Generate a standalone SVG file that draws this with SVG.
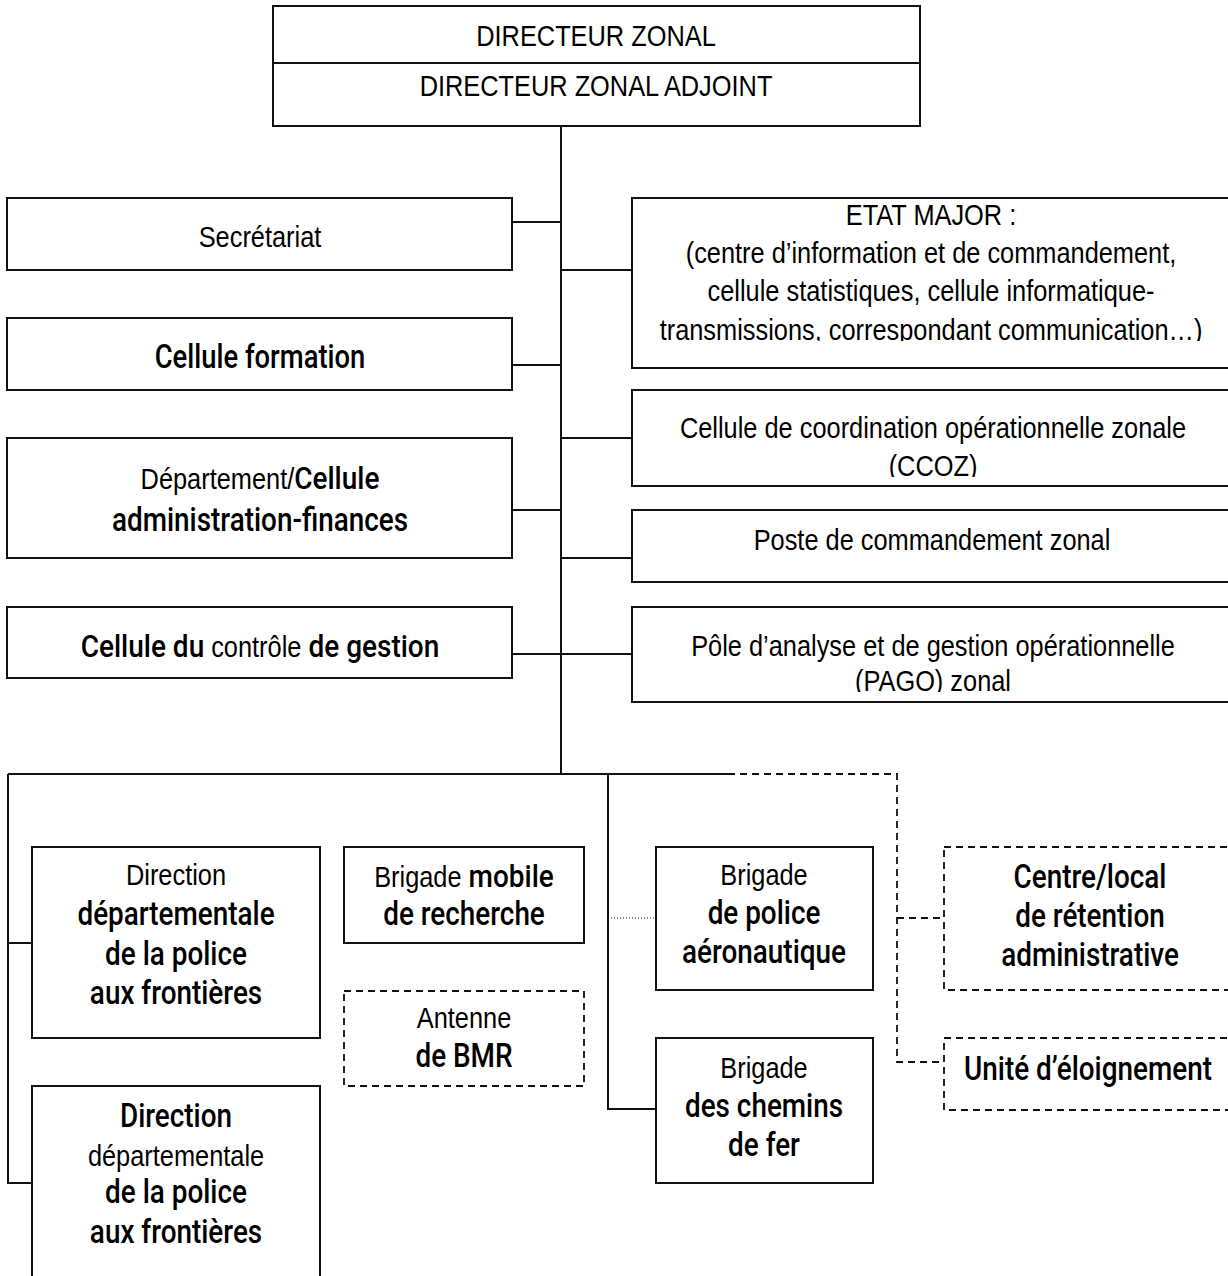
<svg xmlns="http://www.w3.org/2000/svg" width="1228" height="1276" viewBox="0 0 1228 1276">
  <style>
    .box { fill: #fff; stroke: #111; stroke-width: 2; }
    .dbox { fill: #fff; stroke: #111; stroke-width: 1.8; stroke-dasharray: 7 5; }
    .ln { fill: none; stroke: #111; stroke-width: 2; }
    .dln { fill: none; stroke: #111; stroke-width: 1.8; stroke-dasharray: 7 5; }
    .dot { fill: none; stroke: #111; stroke-width: 1; stroke-dasharray: 1 2; }
    .l { font-family: "Liberation Sans", Arial, sans-serif; font-size: 29px; fill: #000; text-anchor: middle; }
    .b { font-family: Roboto, "Liberation Sans", Arial, sans-serif; font-weight: 500; font-size: 33px; fill: #000; text-anchor: middle; }
    .bm { font-family: Roboto, "Liberation Sans", Arial, sans-serif; font-weight: 500; font-size: 32px; }
  </style>
  <defs>
    <clipPath id="clipEtat"><rect x="630" y="196" width="610" height="145"/></clipPath>
    <clipPath id="clipCcoz"><rect x="630" y="388" width="610" height="89"/></clipPath>
    <clipPath id="clipPago"><rect x="630" y="605" width="610" height="87"/></clipPath>
  </defs>

  <!-- connectors -->
  <g id="connectors">
    <path class="ln" d="M561 126 V774"/>
    <path class="ln" d="M512 222 H561 M512 365 H561 M512 510 H561 M512 654 H561"/>
    <path class="ln" d="M561 270 H632 M561 438 H632 M561 558 H632 M561 654 H632"/>
    <path class="ln" d="M8 774 H728"/>
    <path class="dln" d="M728 774 H897 V1062 H944 M897 918 H944"/>
    <path class="ln" d="M8 774 V1183 H32 M8 943 H32"/>
    <path class="ln" d="M608 774 V1109 H656"/>
    <path class="dot" d="M608 918 H656"/>
  </g>

  <!-- head of the zone -->
  <g id="directeur">
    <rect class="box" x="273" y="6" width="647" height="120"/>
    <path class="ln" d="M273 63 H920"/>
    <text class="l" transform="translate(596 46) scale(0.875 1)">DIRECTEUR ZONAL</text>
    <text class="l" transform="translate(596 96) scale(0.875 1)">DIRECTEUR ZONAL ADJOINT</text>
  </g>

  <!-- left column -->
  <g id="secretariat">
    <rect class="box" x="7" y="198" width="505" height="72"/>
    <text class="l" transform="translate(260 247) scale(0.875 1)">Secrétariat</text>
  </g>
  <g id="cellule-formation">
    <rect class="box" x="7" y="318" width="505" height="72"/>
    <text class="b" transform="translate(260 368) scale(0.83 1)">Cellule formation</text>
  </g>
  <g id="administration-finances">
    <rect class="box" x="7" y="438" width="505" height="120"/>
    <text class="l" transform="translate(260 489) scale(0.875 1)">Département/<tspan class="bm">Cellule</tspan></text>
    <text class="b" transform="translate(260 531) scale(0.845 1)">administration-finances</text>
  </g>
  <g id="controle-gestion">
    <rect class="box" x="7" y="607" width="505" height="71"/>
    <text class="l" transform="translate(260 657) scale(0.875 1)"><tspan class="bm">Cellule du </tspan>contrôle <tspan class="bm">de gestion</tspan></text>
  </g>

  <!-- right column -->
  <g id="etat-major">
    <rect class="box" x="632" y="198" width="610" height="170"/>
    <g clip-path="url(#clipEtat)">
      <text class="l" transform="translate(931 225) scale(0.875 1)">ETAT MAJOR :</text>
      <text class="l" transform="translate(931 263) scale(0.875 1)">(centre d’information et de commandement,</text>
      <text class="l" transform="translate(931 301) scale(0.875 1)">cellule statistiques, cellule informatique-</text>
      <text class="l" transform="translate(931 340) scale(0.875 1)">transmissions, correspondant communication…)</text>
    </g>
  </g>
  <g id="ccoz">
    <rect class="box" x="632" y="390" width="610" height="96"/>
    <g clip-path="url(#clipCcoz)">
      <text class="l" transform="translate(933 438) scale(0.875 1)">Cellule de coordination opérationnelle zonale</text>
      <text class="l" transform="translate(933 476) scale(0.875 1)">(CCOZ)</text>
    </g>
  </g>
  <g id="poste-commandement">
    <rect class="box" x="632" y="510" width="610" height="72"/>
    <text class="l" transform="translate(932 550) scale(0.875 1)">Poste de commandement zonal</text>
  </g>
  <g id="pago">
    <rect class="box" x="632" y="607" width="610" height="95"/>
    <g clip-path="url(#clipPago)">
      <text class="l" transform="translate(933 656) scale(0.875 1)">Pôle d’analyse et de gestion opérationnelle</text>
      <text class="l" transform="translate(933 691) scale(0.875 1)">(PAGO) zonal</text>
    </g>
  </g>

  <!-- lower level -->
  <g id="ddpaf-1">
    <rect class="box" x="32" y="847" width="288" height="191"/>
    <text class="l" transform="translate(176 885) scale(0.875 1)">Direction</text>
    <text class="b" transform="translate(176 925) scale(0.845 1)">départementale</text>
    <text class="b" transform="translate(176 965) scale(0.845 1)">de la police</text>
    <text class="b" transform="translate(176 1004) scale(0.845 1)">aux frontières</text>
  </g>
  <g id="ddpaf-2">
    <path class="box" d="M32 1290 V1086 H320 V1290"/>
    <text class="b" transform="translate(176 1127) scale(0.845 1)">Direction</text>
    <text class="l" transform="translate(176 1166) scale(0.875 1)">départementale</text>
    <text class="b" transform="translate(176 1203) scale(0.845 1)">de la police</text>
    <text class="b" transform="translate(176 1243) scale(0.845 1)">aux frontières</text>
  </g>
  <g id="bmr">
    <rect class="box" x="344" y="847" width="240" height="96"/>
    <text class="l" transform="translate(464 887) scale(0.875 1)">Brigade <tspan class="bm">mobile</tspan></text>
    <text class="b" transform="translate(464 925) scale(0.845 1)">de recherche</text>
  </g>
  <g id="antenne-bmr">
    <rect class="dbox" x="344" y="991" width="240" height="95"/>
    <text class="l" transform="translate(464 1028) scale(0.875 1)">Antenne</text>
    <text class="b" transform="translate(464 1067) scale(0.845 1)">de BMR</text>
  </g>
  <g id="police-aeronautique">
    <rect class="box" x="656" y="847" width="217" height="143"/>
    <text class="l" transform="translate(764 885) scale(0.875 1)">Brigade</text>
    <text class="b" transform="translate(764 924) scale(0.845 1)">de police</text>
    <text class="b" transform="translate(764 963) scale(0.845 1)">aéronautique</text>
  </g>
  <g id="chemins-de-fer">
    <rect class="box" x="656" y="1038" width="217" height="145"/>
    <text class="l" transform="translate(764 1078) scale(0.875 1)">Brigade</text>
    <text class="b" transform="translate(764 1117) scale(0.845 1)">des chemins</text>
    <text class="b" transform="translate(764 1156) scale(0.845 1)">de fer</text>
  </g>
  <g id="retention">
    <rect class="dbox" x="944" y="847" width="300" height="143"/>
    <text class="b" transform="translate(1090 888) scale(0.845 1)">Centre/local</text>
    <text class="b" transform="translate(1090 927) scale(0.845 1)">de rétention</text>
    <text class="b" transform="translate(1090 966) scale(0.845 1)">administrative</text>
  </g>
  <g id="eloignement">
    <rect class="dbox" x="944" y="1038" width="300" height="72"/>
    <text class="b" transform="translate(1088 1080) scale(0.845 1)">Unité d’éloignement</text>
  </g>
</svg>
